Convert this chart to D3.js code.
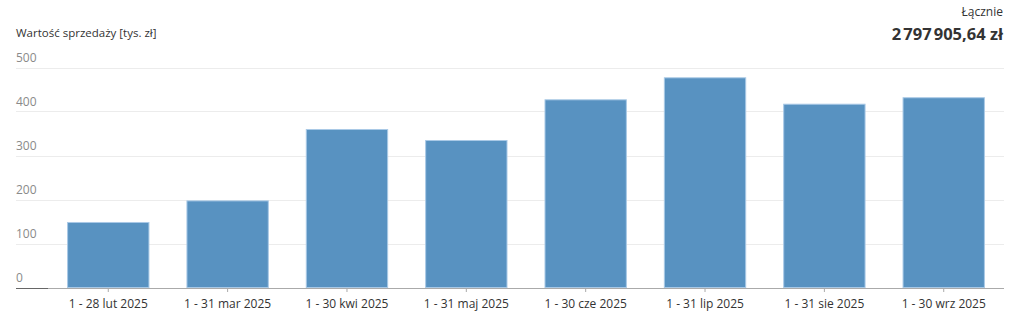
<!DOCTYPE html>
<html>
<head>
<meta charset="utf-8">
<script src="https://cdn.jsdelivr.net/npm/d3@7"></script>
<style>
    body { margin: 0; background: #fff; font-family: "Open Sans", sans-serif; }
    svg text { font-family: "Open Sans", sans-serif; }
</style>
</head>
<body>
<div id="graph"></div>
<script>
    // Chart data
    var months = [ '1 - 28 lut 2025', '1 - 31 mar 2025', '1 - 30 kwi 2025', '1 - 31 maj 2025',
                   '1 - 30 cze 2025', '1 - 31 lip 2025', '1 - 31 sie 2025', '1 - 30 wrz 2025' ];
    var salesValues = [ 148.9, 198.0, 360.2, 335.2, 427.7, 477.7, 417.7, 432.4 ];   // tys. zł
    var yTicks = [ 0, 100, 200, 300, 400, 500 ];
    var totalValue = 2797905.64;

    var titleText = 'Wartość sprzedaży [tys. zł]';
    var totalLabel = 'Łącznie';

    // Width and height
    var width  = 1024;
    var height = 331;

    var svg = d3.select ('#graph').append ('svg')
                .attr ('width', width)
                .attr ('height', height);

    var x = d3.scaleBand ()
              .domain (months)
              .range ([48, 1004])
              .paddingInner (0.31)
              .paddingOuter (0.16);

    var y = d3.scaleLinear ()
              .domain ([0, 500])
              .range ([287.5, 67.5]);

    // Gridlines
    svg.selectAll ('.grid')
       .data (yTicks.slice (1))
       .enter ()
       .append ('line')
       .attr ('class', 'grid')
       .attr ('x1', 16)
       .attr ('x2', x.range ()[1])
       .attr ('y1', function (d) { return Math.round (y(d)) + 0.5; })
       .attr ('y2', function (d) { return Math.round (y(d)) + 0.5; })
       .style ('stroke', '#ececec')
       .style ('stroke-width', 1);

    // Y tick labels sit above their gridline
    svg.selectAll ('.ylabel')
       .data (yTicks)
       .enter ()
       .append ('text')
       .attr ('class', 'ylabel')
       .attr ('x', 16)
       .attr ('y', function (d) { return y(d) - 6; })
       .style ('font-size', '12px')
       .style ('fill', '#8a8a8a')
       .text (function (d) { return d; });

    // Bars
    svg.selectAll ('.bar')
       .data (salesValues)
       .enter ()
       .append ('rect')
       .attr ('class', 'bar')
       .attr ('x', function (d, i) { return x(months[i]) + 0.5; })
       .attr ('width', x.bandwidth () - 1)
       .attr ('y', function (d) { return y(d) + 0.5; })
       .attr ('height', function (d) { return y(0) - y(d) - 0.5; })
       .style ('fill', '#5892c1')
       .style ('stroke', '#a9c9e6')
       .style ('stroke-width', 1);

    // X axis
    var xAxis = d3.axisBottom (x).tickSize (4).tickSizeOuter (0);
    var gx = svg.append ('g')
                .attr ('transform', 'translate(0,' + Math.round (y(0)) + ')')
                .call (xAxis);
    gx.select ('.domain').remove ();
    gx.selectAll ('.tick line').style ('stroke', '#aaa');
    gx.selectAll ('.tick text')
      .attr ('dy', '1.1em')
      .style ('font-size', '12px')
      .style ('fill', '#333');

    svg.append ('line')
       .attr ('x1', 16).attr ('x2', x.range ()[1])
       .attr ('y1', Math.round (y(0)) + 0.5).attr ('y2', Math.round (y(0)) + 0.5)
       .style ('stroke', '#aaa');
    svg.append ('line')
       .attr ('x1', 16).attr ('x2', x.range ()[0])
       .attr ('y1', Math.round (y(0)) + 0.5).attr ('y2', Math.round (y(0)) + 0.5)
       .style ('stroke', '#666');

    // Titles
    svg.append ('text')
       .attr ('x', 16)
       .attr ('y', 37)
       .style ('font-size', '11.5px')
       .style ('fill', '#333')
       .text (titleText);

    var plLocale = d3.formatLocale ({ decimal: ',', thousands: '\u202f', grouping: [3], currency: ['', ' zł'] });
    var fmtTotal = plLocale.format (',.2f');

    svg.append ('text')
       .attr ('x', 1003)
       .attr ('y', 16)
       .attr ('text-anchor', 'end')
       .style ('font-size', '12px')
       .style ('fill', '#333')
       .text (totalLabel);

    svg.append ('text')
       .attr ('x', 1003)
       .attr ('y', 40)
       .attr ('text-anchor', 'end')
       .style ('font-size', '16.5px')
       .style ('font-weight', 'bold')
       .style ('fill', '#333')
       .text (fmtTotal (totalValue) + ' zł');
</script>
</body>
</html>
